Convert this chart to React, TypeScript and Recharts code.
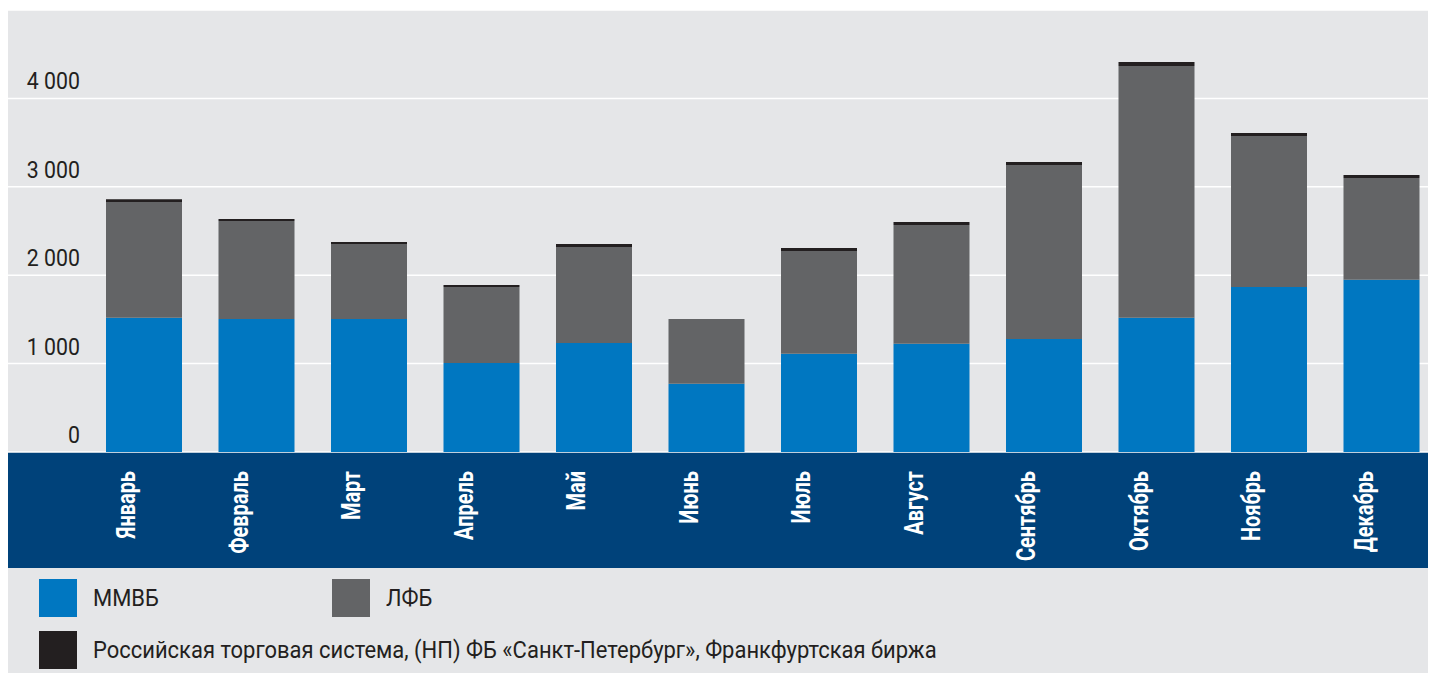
import { BarChart, Bar, XAxis, YAxis, CartesianGrid, Legend } from "recharts";

const months = ["Январь", "Февраль", "Март", "Апрель", "Май", "Июнь", "Июль", "Август", "Сентябрь", "Октябрь", "Ноябрь", "Декабрь"];
const mmvb = [1519, 1505, 1505, 1007, 1233, 773, 1112, 1225, 1278, 1519, 1867, 1949];
const lfb = [1309, 1108, 848, 860, 1086, 732, 1162, 1343, 1969, 2848, 1708, 1151];
const rts = [31, 23, 23, 22, 34, 0, 34, 34, 34, 45, 34, 34];
const yTicks = [0, 1000, 2000, 3000, 4000];

const seriesKeys = ["mmvb", "lfb", "rts"];
const seriesNames: Record<string, string> = {
  mmvb: "ММВБ",
  lfb: "ЛФБ",
  rts: "Российская торговая система, (НП) ФБ «Санкт-Петербург», Франкфуртская биржа",
};

const data = months.map((m, i) => ({ month: m, mmvb: mmvb[i], lfb: lfb[i], rts: rts[i] }));

const FONT = "Roboto, sans-serif";
const TEXT = "#231f20";

function fmt(v: number) {
  return v === 0 ? "0" : `${v / 1000} 000`;
}

function YTick(props: any) {
  const { y, payload } = props;
  return (
    <text
      transform={`translate(72 ${y - 9}) scale(0.87 1)`}
      textAnchor="end"
      fontFamily={FONT}
      fontSize={24.5}
      fill={TEXT}
    >
      {fmt(payload.value)}
    </text>
  );
}

function XTick(props: any) {
  const { x, y, payload } = props;
  return (
    <text
      transform={`translate(${x - 9} ${y + 11}) rotate(-90) scale(0.8 1)`}
      textAnchor="end"
      fontFamily={FONT}
      fontWeight="bold"
      fontSize={25}
      fill="#ffffff"
    >
      {payload.value}
    </text>
  );
}

function LegendBox(props: any) {
  const items = [...(props.payload || [])].sort(
    (a: any, b: any) => seriesKeys.indexOf(a.dataKey) - seriesKeys.indexOf(b.dataKey)
  );
  const pos = [
    { left: 31, top: 11 },
    { left: 324, top: 11 },
    { left: 31, top: 63 },
  ];
  return (
    <div style={{ position: "relative", height: 107, width: 1428 }}>
      {items.map((it: any, i: number) => (
        <div
          key={it.value}
          style={{ position: "absolute", left: pos[i].left, top: pos[i].top, display: "flex", alignItems: "center", height: 38 }}
        >
          <div style={{ width: 38, height: 38, background: it.color }} />
          <span
            style={{
              marginLeft: 16,
              fontFamily: FONT,
              fontSize: 23.5,
              color: TEXT,
              whiteSpace: "nowrap",
              display: "inline-block",
              transform: "scaleX(0.935)",
              transformOrigin: "left center",
            }}
          >
            {it.value}
          </span>
        </div>
      ))}
    </div>
  );
}

export default function App() {
  return (
    <div
      style={{ position: "relative", top: 2, width: 1428, height: 665, background: "#e5e6e8", overflow: "hidden" }}
    >
      <div style={{ position: "absolute", left: 0, top: 442, width: 1428, height: 116, background: "#00427a" }} />
      <BarChart width={1430} height={665} data={data} margin={{ top: 0, right: 0, bottom: 0, left: 0 }}>
        <CartesianGrid horizontal vertical={false} stroke="#ffffff" strokeWidth={1.5} />
        <XAxis
          dataKey="month"
          height={116}
          padding={{ left: 80, right: 0 }}
          axisLine={false}
          tickLine={false}
          interval={0}
          tick={<XTick />}
        />
        <YAxis
          mirror
          width={80}
          domain={[0, 5000]}
          ticks={yTicks}
          axisLine={false}
          tickLine={false}
          tick={<YTick />}
        />
        <Legend verticalAlign="bottom" align="left" height={107} content={<LegendBox />} />
        {seriesKeys.map((k, i) => (
          <Bar
            key={k}
            dataKey={k}
            name={seriesNames[k]}
            stackId="a"
            fill={["#0077c1", "#636466", "#231f20"][i]}
            barSize={76}
            isAnimationActive={false}
          />
        ))}
      </BarChart>
    </div>
  );
}
